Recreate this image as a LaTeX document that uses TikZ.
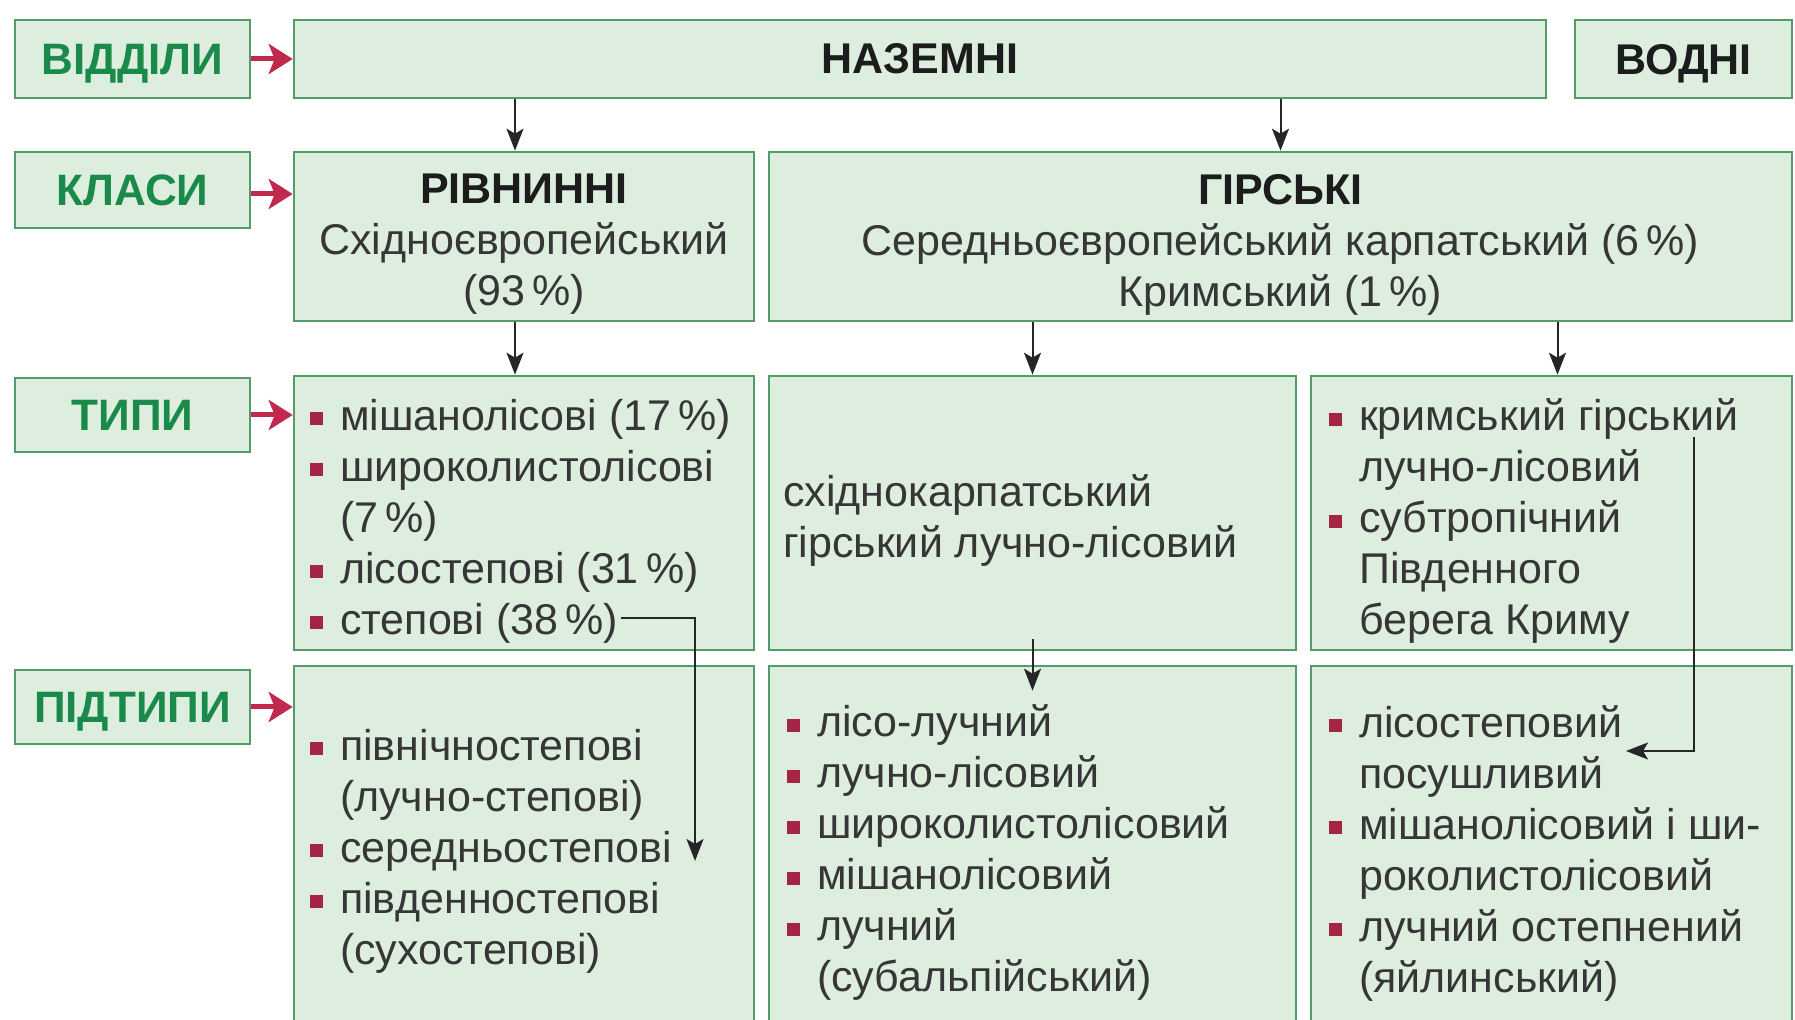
\documentclass[tikz,border=0pt]{standalone}
\usepackage{fontspec}
\setmainfont{Liberation Sans}
\usetikzlibrary{arrows.meta}
\definecolor{boxfill}{HTML}{DDEEDF}
\definecolor{boxline}{HTML}{539C6A}
\definecolor{lblgreen}{HTML}{1A8A4B}
\definecolor{redarr}{HTML}{C0284E}
\definecolor{bulred}{HTML}{A32443}
\definecolor{txt}{HTML}{363636}
\definecolor{hdr}{HTML}{1C1C1C}
\newcommand\bl{\textcolor{bulred}{\rule[0.11em]{0.3em}{0.3em}}}
\newcommand\itm{\makebox[15pt][l]{\bl}}
\newcommand\ind{\hspace*{15pt}}
\newcommand\pct{\,\%}
\begin{document}
\begin{tikzpicture}[x=0.5pt,y=-0.5pt,
  box/.style={draw=boxline, line width=1.3pt, fill=boxfill, inner sep=0pt},
  lbl/.style={box, text=lblgreen, font=\fontsize{22}{26}\selectfont\bfseries, text depth=0pt},
  hd/.style={box, text=hdr, font=\fontsize{21.5}{26}\selectfont\bfseries, text depth=0pt},
  body/.style={inner sep=0pt, text=txt, align=left, font=\fontsize{21.5}{25.5}\selectfont},
  arr/.style={draw=black!85, line width=1pt, -{Stealth[length=11pt,width=8.5pt,inset=2.5pt]}},
  redarrow/.style={draw=redarr, line width=2.5pt, -{Stealth[length=12pt,width=15pt,inset=3pt]}}]
\useasboundingbox (0,0) rectangle (1795,1020);
\fill[white] (0,0) rectangle (1795,1020);
% row 1
\node[lbl, minimum width=117.5pt, minimum height=39pt] (vid) at (132.5,59) {ВІДДІЛИ};
\node[hd, minimum width=626pt, minimum height=39pt] (naz) at (920,59) {НАЗЕМНІ};
\node[hd, minimum width=108.5pt, minimum height=39pt] (vod) at (1683.5,59) {ВОДНІ};
% row 2
\node[lbl, minimum width=117.5pt, minimum height=38pt] (klas) at (132.5,190) {КЛАСИ};
\node[box, minimum width=230pt, minimum height=84.5pt] (rivn) at (524,236.5) {};
\node[box, minimum width=511.5pt, minimum height=84.5pt] (girs) at (1280.5,236.5) {};
\node[body, align=center, yshift=-4pt] (rivnt) at (rivn.center)
  {{\fontsize{21.5}{25.5}\selectfont\bfseries\color{hdr}РІВНИННІ}\\Східноєвропейський\\(93\pct)};
\node[body, align=center, yshift=-4pt] (girst) at (girs.center)
  {{\fontsize{21.5}{25.5}\selectfont\bfseries\color{hdr}ГІРСЬКІ}\\Середньоєвропейський карпатський (6\pct)\\Кримський (1\pct)};
% row 3
\node[lbl, minimum width=117.5pt, minimum height=37pt] (typy) at (132.5,415) {ТИПИ};
\node[box, minimum width=230pt, minimum height=137pt] (ta) at (524,513) {};
\node[box, minimum width=263.5pt, minimum height=137pt] (tb) at (1032.5,513) {};
\node[box, minimum width=240.5pt, minimum height=137pt] (tc) at (1551.5,513) {};
% row 4
\node[lbl, minimum width=117.5pt, minimum height=37pt] (pid) at (132.5,707) {ПІДТИПИ};
\node[box, minimum width=230pt, minimum height=179pt] (pa) at (524,845) {};
\node[box, minimum width=263.5pt, minimum height=179pt] (pb) at (1032.5,845) {};
\node[box, minimum width=240.5pt, minimum height=179pt] (pc) at (1551.5,845) {};
% texts
\node[body, anchor=west] (tat) at ([xshift=8.5pt,yshift=-4pt]ta.west)
  {\itm мішанолісові (17\pct)\\\itm широколистолісові\\\ind(7\pct)\\\itm лісостепові (31\pct)\\\itm степові (38\pct)};
\node[body, anchor=west] (tbt) at ([xshift=7.5pt,yshift=-4pt]tb.west)
  {східнокарпатський\\гірський лучно-лісовий};
\node[body, anchor=west] (tct) at ([xshift=9.5pt,yshift=-4pt]tc.west)
  {\itm кримський гірський\\\ind лучно-лісовий\\\itm субтропічний\\\ind Південного\\\ind берега Криму};
\node[body, anchor=west] (pat) at ([xshift=8.5pt,yshift=-3pt]pa.west)
  {\itm північностепові\\\ind(лучно-степові)\\\itm середньостепові\\\itm південностепові\\\ind(сухостепові)};
\node[body, anchor=west] (pbt) at ([xshift=9.5pt,yshift=-4pt]pb.west)
  {\itm лісо-лучний\\\itm лучно-лісовий\\\itm широколистолісовий\\\itm мішанолісовий\\\itm лучний\\\ind(субальпійський)};
\node[body, anchor=west] (pct) at ([xshift=9.5pt,yshift=-4pt]pc.west)
  {\itm лісостеповий\\\ind посушливий\\\itm мішанолісовий і ши-\\\ind роколистолісовий\\\itm лучний остепнений\\\ind(яйлинський)};
% red arrows
\draw[redarrow] (vid.east) -- (naz.west);
\draw[redarrow] ([yshift=-2pt]klas.east) -- ([yshift=-2pt]klas.east -| rivn.west);
\draw[redarrow] (typy.east) -- (typy.east -| ta.west);
\draw[redarrow] (pid.east) -- (pid.east -| pa.west);
% black arrows
\draw[arr] ([xshift=-4.5pt]rivn.north |- naz.south) -- ([xshift=-4.5pt]rivn.north);
\draw[arr] (girs.north |- naz.south) -- (girs.north);
\draw[arr] ([xshift=-4.5pt]rivn.south) -- ([xshift=-4.5pt]ta.north);
\draw[arr] (tb.north |- girs.south) -- (tb.north);
\draw[arr] ([xshift=3pt]tc.north |- girs.south) -- ([xshift=3pt]tc.north);
\draw[arr] ([yshift=6pt]tb.south) -- ([yshift=-13pt]pb.north);
\coordinate (stA) at (621,618);
\coordinate (stB) at (695,861);
\draw[arr] (stA) -| (stB);
\coordinate (crA) at (1694,437);
\coordinate (crB) at (1626,751);
\draw[arr] (crA) |- (crB);
\end{tikzpicture}
\end{document}
